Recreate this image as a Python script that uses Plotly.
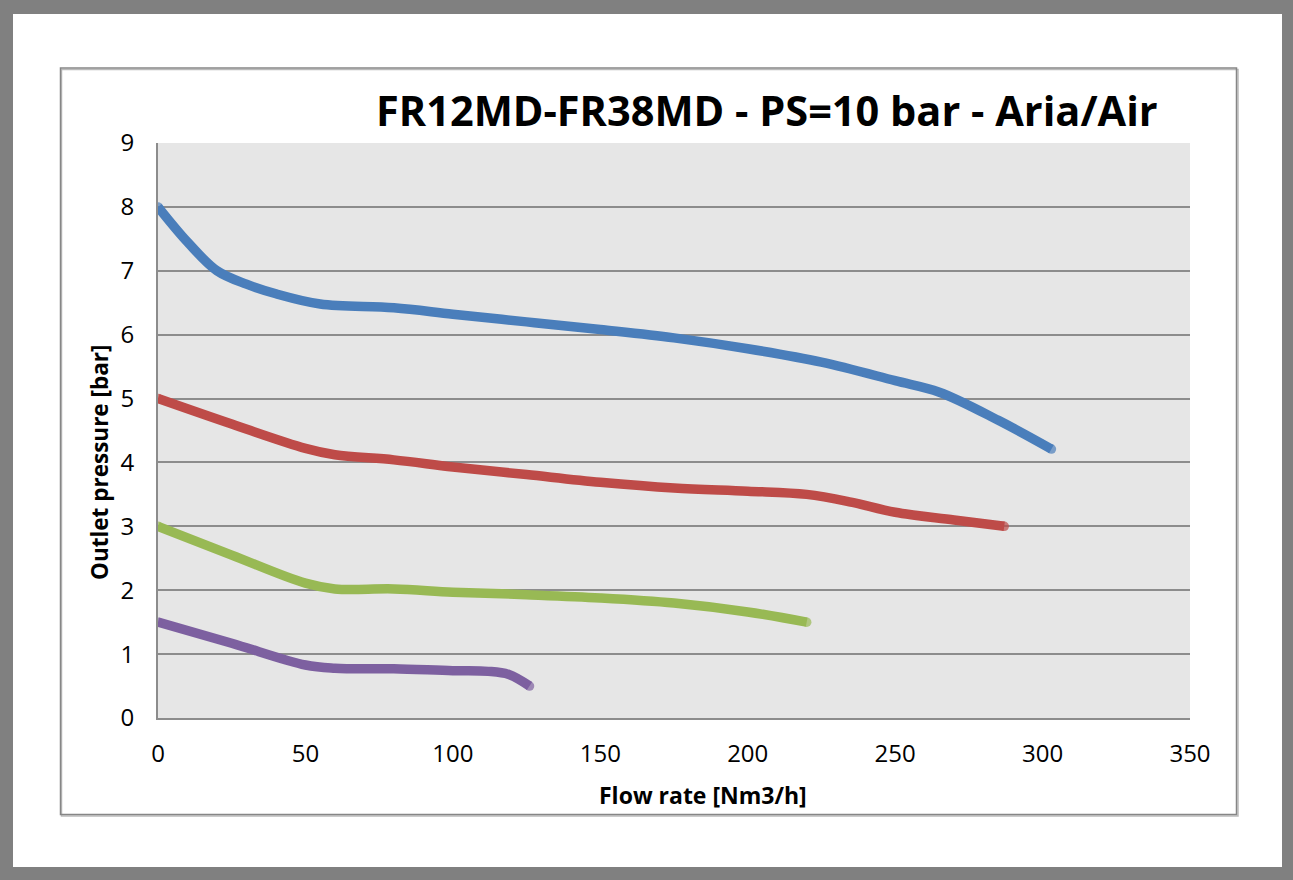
import plotly.graph_objects as go

# ---------------- data ----------------
title_text = "FR12MD-FR38MD - PS=10 bar - Aria/Air"
x_title = "Flow rate [Nm3/h]"
y_title = "Outlet pressure [bar]"

blue_x = [0, 10, 20, 30, 40, 55, 80, 100, 125, 150, 175, 200, 225, 250, 265, 285, 303]
blue_y = [8.0, 7.45, 7.0, 6.79, 6.64, 6.48, 6.42, 6.32, 6.2, 6.08, 5.95, 5.78, 5.57, 5.28, 5.1, 4.66, 4.21]

red_x = [0, 25, 50, 60, 80, 100, 125, 150, 175, 200, 220, 235, 250, 270, 287]
red_y = [5.0, 4.6, 4.22, 4.12, 4.04, 3.93, 3.81, 3.69, 3.6, 3.55, 3.5, 3.38, 3.22, 3.1, 3.0]

green_x = [0, 25, 50, 60, 80, 100, 125, 150, 175, 200, 220]
green_y = [3.0, 2.55, 2.11, 2.02, 2.02, 1.97, 1.93, 1.88, 1.8, 1.66, 1.5]

purple_x = [0, 25, 50, 60, 80, 100, 112, 119, 126]
purple_y = [1.5, 1.17, 0.83, 0.78, 0.77, 0.74, 0.73, 0.68, 0.5]

series_colors = ["#4A7EBB", "#BE4B48", "#98B954", "#7D60A0"]

x_ticks = [0, 50, 100, 150, 200, 250, 300, 350]
y_ticks = [0, 1, 2, 3, 4, 5, 6, 7, 8, 9]

# ---------------- figure ----------------
W, H = 1293, 880
L, R, T, B = 158, 1190, 143, 718  # plot area in px
LW = 9.5


def px(xp):
    return (xp - L) / (R - L)


def py(yp):
    return (B - yp) / (B - T)


fig = go.Figure()
for xs, ys, c in zip([blue_x, red_x, green_x, purple_x],
                     [blue_y, red_y, green_y, purple_y], series_colors):
    sizes = [0] * len(xs)
    sizes[0] = LW
    sizes[-1] = LW
    fig.add_trace(go.Scatter(x=xs, y=ys, mode="lines+markers",
                             line=dict(color=c, width=LW, shape="spline", smoothing=1.0),
                             marker=dict(size=sizes, color=c, line=dict(width=0)),
                             showlegend=False, hoverinfo="skip"))

shapes = []
frame = "#808080"
# outer grey frame
for x0, y0, x1, y1 in [(0, 0, W, 14), (0, 0, 13, H), (1282, 0, W, H), (0, 867, W, H)]:
    shapes.append(dict(type="rect", xref="paper", yref="paper",
                       x0=px(x0), x1=px(x1), y0=py(y0), y1=py(y1),
                       fillcolor=frame, line=dict(width=0), layer="above"))
# chart border with slight shadow
shapes.append(dict(type="rect", xref="paper", yref="paper",
                   x0=px(61.5), x1=px(1238), y0=py(69.5), y1=py(816),
                   line=dict(color="#BBBBBB", width=1.5), layer="below"))
shapes.append(dict(type="rect", xref="paper", yref="paper",
                   x0=px(60.5), x1=px(1236.5), y0=py(68), y1=py(814.5),
                   line=dict(color="#868686", width=1.5), layer="below"))

fig.update_layout(
    width=W, height=H,
    margin=dict(l=L, r=W - R, t=T, b=H - B),
    paper_bgcolor="white",
    plot_bgcolor="#E6E6E6",
    font=dict(family="Open Sans", color="#000000"),
    shapes=shapes,
    xaxis=dict(range=[0, 350], tickvals=x_ticks, ticktext=[str(v) for v in x_ticks],
               showgrid=False, zeroline=False, showline=True, linecolor="#8C8C8C",
               linewidth=2, ticks="", tickfont=dict(size=24, family="Open Sans"),
               ticklabelstandoff=13, fixedrange=True),
    yaxis=dict(range=[0, 9], tickvals=y_ticks, ticktext=[str(v) for v in y_ticks],
               showgrid=True, gridcolor="#8C8C8C", gridwidth=2, zeroline=False,
               showline=True, linecolor="#8C8C8C", linewidth=2, ticks="",
               tickfont=dict(size=24, family="Open Sans"),
               ticklabelstandoff=17, fixedrange=True),
    annotations=[
        dict(text="<b>" + title_text + "</b>", xref="paper", yref="paper",
             x=px(767), y=py(110), showarrow=False, xanchor="center", yanchor="middle",
             font=dict(size=41.5, family="Open Sans", color="#000000")),
        dict(text="<b>" + x_title + "</b>", xref="paper", yref="paper",
             x=px(703), y=py(795), showarrow=False, xanchor="center", yanchor="middle",
             font=dict(size=23, family="Open Sans", color="#000000")),
        dict(text="<b>" + y_title + "</b>", xref="paper", yref="paper",
             x=px(99), y=py(463), showarrow=False, xanchor="center", yanchor="middle",
             textangle=-90, font=dict(size=22.5, family="Open Sans", color="#000000")),
    ],
)

fig.write_html("out.html", config={"displayModeBar": False},
               post_script="document.body.style.margin='0';document.body.style.overflow='hidden';")
